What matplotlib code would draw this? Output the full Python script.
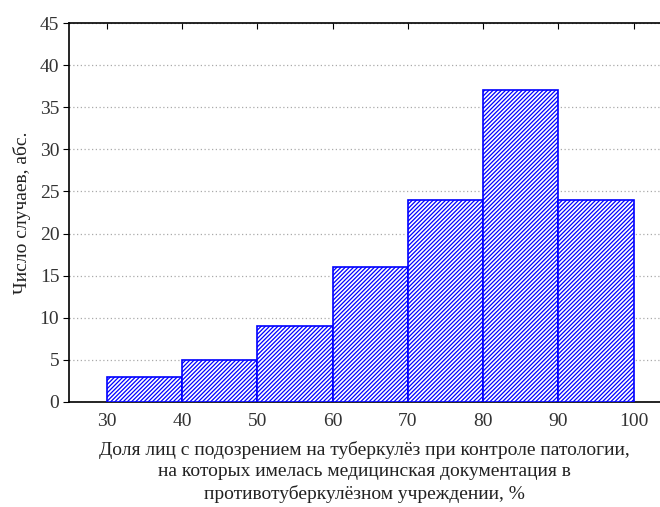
import numpy as np
import matplotlib.pyplot as plt

plt.rcParams['font.family'] = ['Liberation Serif', 'DejaVu Serif']
plt.rcParams['hatch.linewidth'] = 0.9
plt.rcParams['hatch.color'] = 'blue'

# histogram bins (%), counts
bin_edges = [30, 40, 50, 60, 70, 80, 90, 100]
counts = [3, 5, 9, 16, 24, 37, 24]

fig = plt.figure(figsize=(6.6, 5.07), dpi=100)
ax = fig.add_axes([69 / 660, 105 / 507, 1 - 69 / 660, 379 / 507])

left = bin_edges[:-1]
widths = np.diff(bin_edges)
ax.bar(left, counts, width=widths, align='edge', facecolor='white',
       edgecolor='blue', hatch='////////', linewidth=1.2, zorder=3)

ax.set_xlim(25, 103.5)
ax.set_ylim(0, 45)
ax.set_xticks(bin_edges)
ax.set_yticks(np.arange(0, 46, 5))
ax.yaxis.grid(True, linestyle=(0, (1, 2)), color='#aaaaaa', linewidth=0.9, zorder=0)
ax.set_axisbelow(True)

ax.spines['right'].set_visible(False)
for s in ['left', 'top', 'bottom']:
    ax.spines[s].set_linewidth(1.2)
ax.tick_params(axis='y', direction='out', length=4, labelsize=14, labelcolor='#333333', pad=3)
ax.tick_params(axis='x', direction='in', length=4, labelsize=14, labelcolor='#333333',
               top=True, bottom=False, pad=8)

ax.set_ylabel('Число случаев, абс.', fontsize=14, color='#222222', labelpad=6)
ax.set_xlabel('Доля лиц с подозрением на туберкулёз при контроле патологии,\n'
              'на которых имелась медицинская документация в\n'
              'противотуберкулёзном учреждении, %',
              fontsize=14, color='#222222', linespacing=1.32, labelpad=8)

fig.savefig('out.png', dpi=100)
